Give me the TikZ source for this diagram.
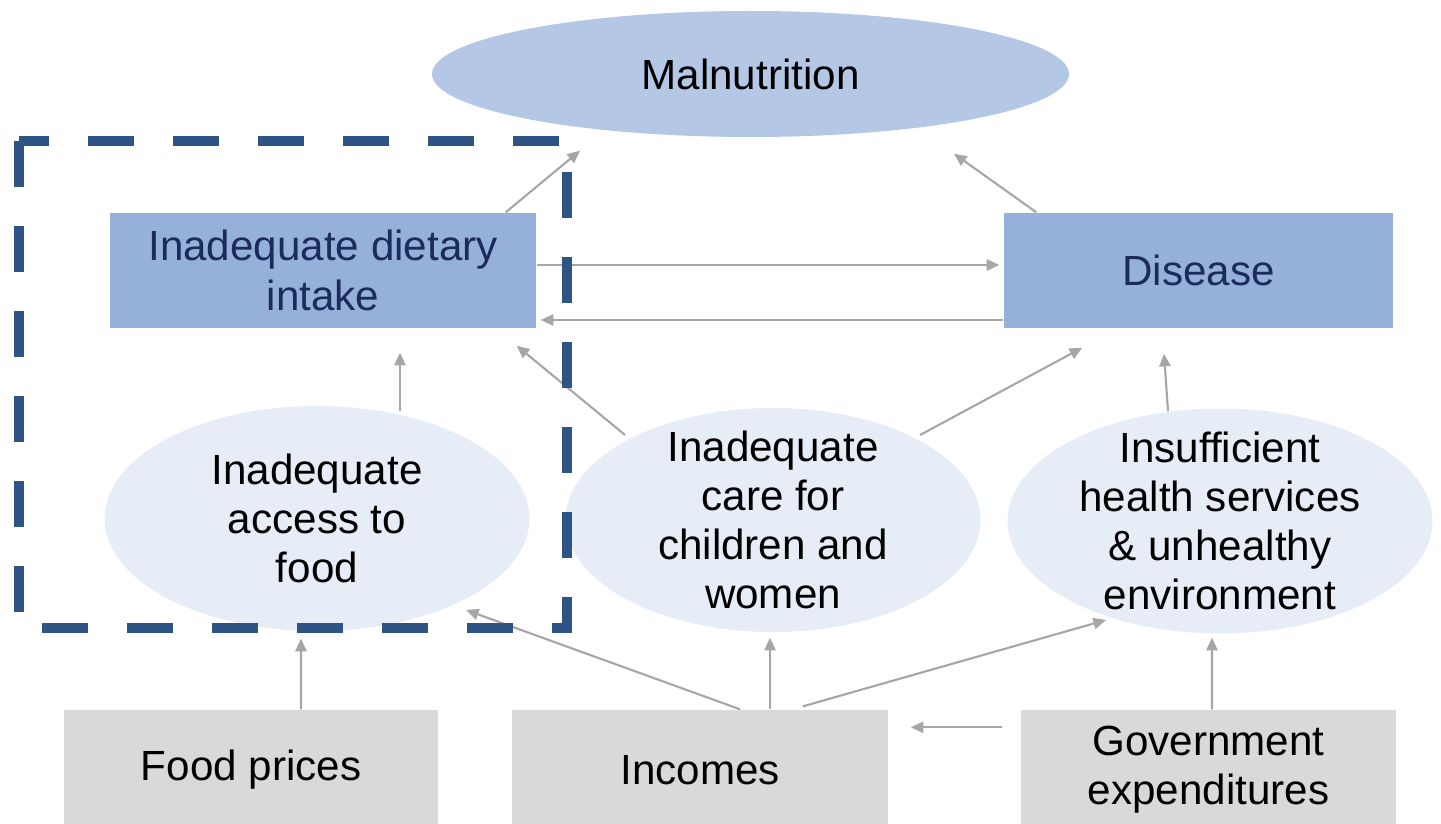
\documentclass[tikz,border=0pt]{standalone}
\usepackage{fontspec}
\setmainfont{Liberation Sans}
\usetikzlibrary{calc}
\usetikzlibrary{arrows.meta}
\usetikzlibrary{shapes.geometric}
\definecolor{bg1}{RGB}{180,199,229}
\definecolor{bg2}{RGB}{149,177,218}
\definecolor{bg3}{RGB}{231,237,246}
\definecolor{bg4}{RGB}{217,217,217}
\definecolor{l1}{RGB}{166,166,166}
\definecolor{d1}{RGB}{46,84,134}
\definecolor{t1}{RGB}{28,43,92}

\begin{document}
\begin{tikzpicture}[
    font=\fontsize{12}{14}\selectfont,
    l/.style={
        line width=0.6pt, color=l1,
        -{Triangle[length=3.6pt,width=3.2pt]}
    },
    o/.style={
        ellipse, inner xsep=0pt, inner ysep=-0.25cm, align=center,
        fill=bg3, text=black
    },
    b/.style={
        rectangle, inner sep=0pt, align=center, fill=bg2, text=t1,
        minimum height=1.15cm
    },
    g/.style={
        rectangle, inner sep=0pt, align=center, fill=bg4, text=black,
        minimum height=1.2cm
    },
    fr/.style={draw=d1, line width=2.9pt, dash pattern=on 0.46cm off 0.39cm}
]

    \useasboundingbox (0,0) rectangle (14.41,-8.23);

    \node [o, fill=bg1, minimum width=6.37cm, minimum height=1.26cm] (mal) at (7.505,-0.74) {Malnutrition};
    \node [b, minimum width=4.26cm] (diet) at ( 3.23 ,-2.705) {Inadequate dietary\\intake};
    \node [b, minimum width=3.89cm] (dis)  at (11.985,-2.705) {Disease};
    \node [o, minimum width=4.25cm, minimum height=2.25cm] (acc)    at ( 3.17,-5.185) {Inadequate\\access to\\food};
    \node [o, minimum width=4.15cm, minimum height=2.24cm] (care)   at ( 7.73,-5.20) {Inadequate\\care for\\children and\\women};
    \node [o, minimum width=4.25cm, minimum height=2.25cm] (health) at (12.2 ,-5.21) {Insufficient\\health services\\\& unhealthy\\environment};
    \node [g, minimum width=3.74cm] (food) at ( 2.51 ,-7.70) {Food prices};
    \node [g, minimum width=3.76cm] (inc)  at ( 7.0  ,-7.70) {Incomes};
    \node [g, minimum width=3.75cm] (gov)  at (12.085,-7.70) {Government\\expenditures};

    \draw [l] ($(diet.north east)+(-0.31,0)$) -- ($(mal.south)+(-1.705,-0.13)$);
    \draw [l] ($(dis.north west)+(0.33,0)$) -- ($(mal.south)+(2.035,-0.16)$);
    \draw [l] ($(diet.east)+(0,0.055)$) -- ($(dis.west)+(-0.04,0.055)$);
    \draw [l] ($(dis.west)+(0,-0.495)$) -- ($(diet.east)+(0.04,-0.495)$);
    \draw [l] ($(acc.north)+(0.83,-0.06)$) -- ($(diet.south)+(0.77,-0.24)$);
    \draw [l] ($(care.center)+(-1.48,0.85)$) -- ($(diet.south east)+(-0.20,-0.17)$);
    \draw [l] ($(care.center)+(1.47,0.85)$) -- ($(dis.south west)+(0.79,-0.19)$);
    \draw [l] ($(health.north)+(-0.52,-0.035)$) -- ($(dis.south)+(-0.345,-0.25)$);
    \draw [l] ($(food.north)+(0.50,0)$) -- ($(acc.south)+(-0.16,-0.07)$);
    \draw [l] ($(inc.north)+(0.40,0)$) -- ($(acc.center)+(1.49,-0.915)$);
    \draw [l] ($(inc.north)+(0.70,0)$) -- ($(care.south)+(-0.03,-0.05)$);
    \draw [l] ($(inc.north)+(1.03,0.03)$) -- ($(health.center)+(-1.14,-0.99)$);
    \draw [l] ($(gov.north west)+(-0.18,-0.18)$) -- ($(inc.north east)+(0.22,-0.18)$);
    \draw [l] ($(gov.north)+(0.035,0)$) -- ($(health.south)+(-0.08,-0.035)$);

    % dashed frame round the food side
    \draw [fr] (0.19,-1.41) rectangle (5.67,-6.28);

\end{tikzpicture}
\end{document}
